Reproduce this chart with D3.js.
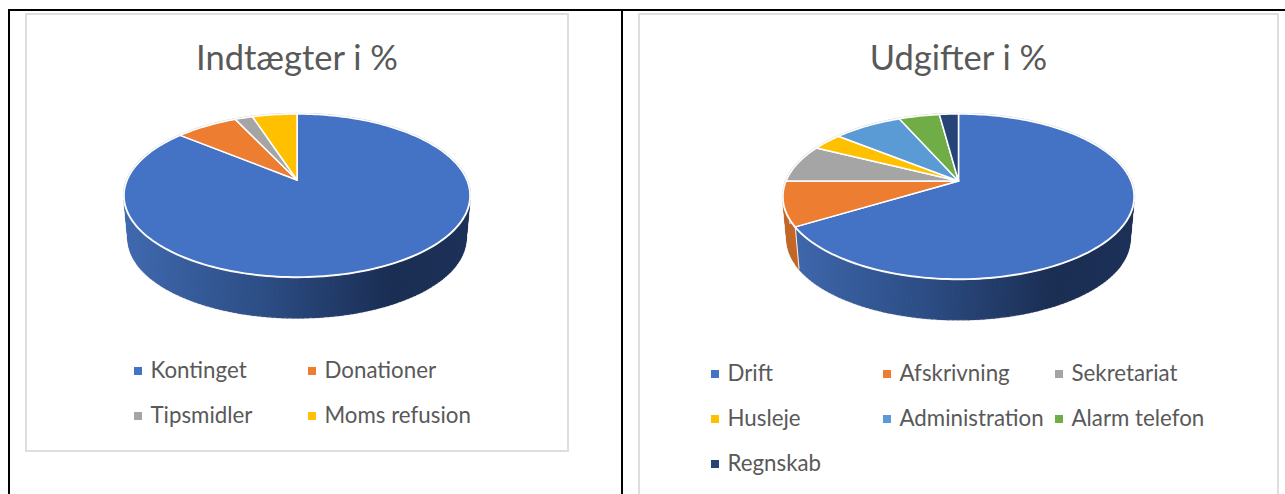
<!DOCTYPE html>
<html><head><meta charset="utf-8">
<script src="https://cdnjs.cloudflare.com/ajax/libs/d3/7.8.5/d3.min.js"></script>
<style>html,body{margin:0;padding:0;background:#fff;overflow:hidden}svg{display:block}text{font-family:Lato,"Open Sans",sans-serif;fill:#595959}</style>
</head><body><svg id="c" width="1285" height="494"></svg>
<script>
const incomeTitle = "Indtægter i %";
const incomeLabels = ["Kontinget","Donationer","Tipsmidler","Moms refusion"];
const incomeValues = [86,7,2,5];
const incomeColors = ["#4472c4","#ed7d31","#a5a5a5","#ffc000"];
const expenseTitle = "Udgifter i %";
const expenseLabels = ["Drift","Afskrivning","Sekretariat","Husleje","Administration","Alarm telefon","Regnskab"];
const expenseValues = [66.3,8.7,7.4,3.4,7.6,4.5,2.1];
const expenseColors = ["#4472c4","#ed7d31","#a5a5a5","#ffc000","#5b9bd5","#70ad47","#264478"];

const svg = d3.select("#c");
const defs = svg.append("defs");

function rect(x,y,w,h,fill){svg.append("rect").attr("x",x).attr("y",y).attr("width",w).attr("height",h).attr("fill",fill);}
function box(x0,y0,x1,y1){svg.append("rect").attr("x",x0+1).attr("y",y0+1).attr("width",x1-x0-2).attr("height",y1-y0-2).attr("fill","#fff").attr("stroke","#dedede").attr("stroke-width",2);}

// frames
rect(8,9,1277,2,"#000");
rect(8,9,2,485,"#000");
rect(621,9,2,485,"#000");

function pie3d(o){
  const g = svg.append("g");
  const gid = "wall"+o.id;
  const grad = defs.append("linearGradient").attr("id",gid).attr("gradientUnits","userSpaceOnUse")
    .attr("x1",o.cx-o.a).attr("x2",o.cx+o.a).attr("y1",0).attr("y2",0);
  [[0,"#3f68ae"],[.4,"#2c4d85"],[.78,"#1a2d52"],[1,"#1c3058"]].forEach(s=>grad.append("stop").attr("offset",s[0]).attr("stop-color",s[1]));
  const arcs = d3.pie().sort(null).value(d=>d)(o.values);
  const proj = (ang,t)=>{
    const u=Math.sin(ang), v=-Math.cos(ang), w=1+t.k*v;
    return [t.cx+t.a*u/w, t.ay+t.b*v/w];
  };
  const line = d3.line();
  const sample = (a0,a1,n)=>d3.range(n+1).map(i=>a0+(a1-a0)*i/n);
  const top={cx:o.cx,a:o.a,b:o.b,k:o.k,ay:o.ay};
  const base={cx:o.cx,a:o.a*o.s,b:o.b*o.s,k:o.k,ay:o.by};
  // walls: one quad per sampled rim step, halo layer first
  const quads=[];
  arcs.forEach((d,i)=>{
    const n=Math.max(4,Math.ceil((d.endAngle-d.startAngle)*40));
    const ang=sample(d.startAngle,d.endAngle,n);
    const paint = i===0?`url(#${gid})`:d3.color(o.colors[i]).darker(.55);
    for(let j=0;j<n;j++){
      const q=[proj(ang[j],top),proj(ang[j+1],top),proj(ang[j+1],base),proj(ang[j],base)];
      quads.push({d:line(q)+"Z",paint});
    }
  });
  quads.forEach(q=>g.append("path").attr("d",q.d).attr("fill","none").attr("stroke","#e4e4e4").attr("stroke-width",2.2));
  quads.forEach(q=>g.append("path").attr("d",q.d).attr("fill",q.paint).attr("stroke",q.paint).attr("stroke-width",1.1));
  // seams between near-side wall segments
  arcs.forEach(d=>{
    if(-Math.cos(d.endAngle)>0 && d.endAngle<2*Math.PI-1e-6){
      g.append("path").attr("d",line([proj(d.endAngle,top),proj(d.endAngle,base)]))
       .attr("stroke","#f2f2f2").attr("stroke-width",1).attr("fill","none");
    }
  });
  // top face: soft halo below, white seam above
  const faces = arcs.map((d,i)=>{
    const n=Math.max(4,Math.ceil((d.endAngle-d.startAngle)*40));
    return {i, d:line([[o.cx,o.ay]].concat(sample(d.startAngle,d.endAngle,n).map(a=>proj(a,top))))+"Z"};
  });
  faces.forEach(f=>g.append("path").attr("d",f.d).attr("fill","none").attr("stroke","#e2e2e2").attr("stroke-width",2.4));
  faces.forEach(f=>g.append("path").attr("d",f.d).attr("fill",o.colors[f.i])
      .attr("stroke","#fff").attr("stroke-width",1.5).attr("stroke-linejoin","round"));
  svg.append("text").attr("x",o.cx).attr("y",o.titleY).attr("text-anchor","middle")
    .attr("font-size",34.5).attr("font-weight",400).text(o.title);
  o.labels.forEach((l,i)=>{
    const c=o.legendPos[i];
    rect(c[0],c[1]-4,8,8,o.colors[i]);
    svg.append("text").attr("x",c[0]+16.5).attr("y",c[1]+7).attr("font-size",22.3).text(l);
  });
}
box(25,13,569,452);
box(638,13,1279,500);
pie3d({id:"A",title:incomeTitle,labels:incomeLabels,values:incomeValues,colors:incomeColors,
  cx:297,ay:180,a:169.8,b:78.55,k:-.19,s:.977,by:223.2,titleY:70,
  legendPos:[[134,371],[308,371],[134,416],[308,416]]});
pie3d({id:"B",title:expenseTitle,labels:expenseLabels,values:expenseValues,colors:expenseColors,
  cx:958.5,ay:181,a:172.4,b:79.6,k:-.188,s:.977,by:224,titleY:70,
  legendPos:[[711,374],[883,374],[1055,374],[711,419],[883,419],[1055,419],[711,464]]});
</script></body></html>
